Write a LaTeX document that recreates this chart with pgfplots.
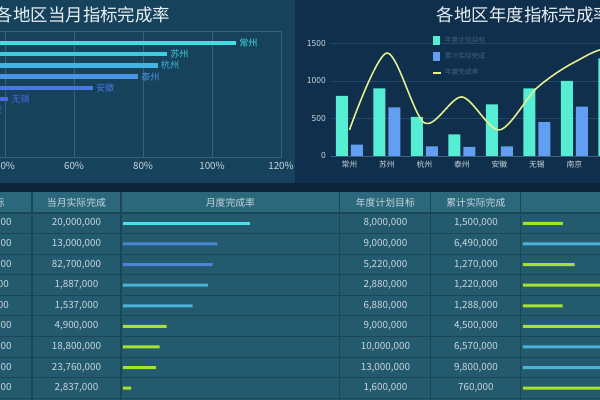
\documentclass[border=0pt]{standalone}
\usepackage{pgfplots}
\pgfplotsset{compat=1.18}
\usepackage{fontspec}
\setmainfont{Noto Sans CJK SC}
\definecolor{bgleft}{HTML}{17425C}
\definecolor{bgright}{HTML}{0F2F4C}
\definecolor{bgband}{HTML}{0C2638}
\definecolor{rowbg}{HTML}{245A6E}
\definecolor{headbg}{HTML}{2B687C}
\definecolor{sepcol}{HTML}{1A4658}
\definecolor{gridL}{HTML}{35617C}
\definecolor{gridR}{HTML}{23486A}
\definecolor{axisR}{HTML}{3A6482}
\definecolor{ticklab}{HTML}{C9D6DE}
\definecolor{titlec}{HTML}{EAF2F6}
\definecolor{tealbar}{HTML}{55EED4}
\definecolor{bluebar}{HTML}{649EF2}
\definecolor{lineyel}{HTML}{E6F08C}
\definecolor{legtext}{HTML}{3E6680}
\definecolor{yg}{HTML}{A6E22E}
\definecolor{lb}{HTML}{4BB4D6}
\definecolor{cy}{HTML}{48E2EA}
\definecolor{mb}{HTML}{4A84D4}
\definecolor{ca}{HTML}{40DDE3}
\definecolor{cb}{HTML}{3DCCE0}
\definecolor{cc}{HTML}{44B5E2}
\definecolor{cd}{HTML}{4A94E6}
\definecolor{ce}{HTML}{4A78E2}
\definecolor{cf}{HTML}{4E66DE}
\definecolor{cg}{HTML}{5A5ED8}
\definecolor{ch}{HTML}{6058D0}
\definecolor{ci}{HTML}{6654C8}
\newcommand\fs[1]{\fontsize{#1}{#1}\selectfont}
\newcommand\trow[5]{%
  \node[text=ticklab,font=\fs{7}] at (-13,{-223.3-20.6*#1}) {#2};
  \node[text=ticklab,font=\fs{7}] at (76.5,{-223.3-20.6*#1}) {#3};
  \node[text=ticklab,font=\fs{7}] at (385.5,{-223.3-20.6*#1}) {#4};
  \node[text=ticklab,font=\fs{7}] at (476,{-223.3-20.6*#1}) {#5};}
\begin{document}
\begin{tikzpicture}
\useasboundingbox (0,0) rectangle (15,-10);
\clip (0,0) rectangle (15,-10);
\begin{scope}[x=0.025cm,y=0.025cm]
\coordinate (LA) at (-133,-157);
\coordinate (RA) at (330.75,-156);
\coordinate (MA) at (123,-398.6);
\coordinate (YA) at (523,-398.6);
% backgrounds
\fill[bgleft] (0,0) rectangle (295,-183);
\fill[bgright] (295,0) rectangle (600,-183);
\fill[bgband] (0,-183) rectangle (600,-192.5);
\fill[rowbg] (-100,-192.5) rectangle (700,-400);
\fill[headbg] (-100,-192.5) rectangle (700,-213);
\foreach \i in {0,...,9} \draw[sepcol,line width=0.8pt] (-100,{-213-20.6*\i}) -- (700,{-213-20.6*\i});
\foreach \x in {32,121,340,431,521} \draw[sepcol,line width=0.8pt] (\x,-192.5) -- (\x,-400);
% titles
\node[anchor=west,text=titlec,font=\fs{12.4}] at (-9,-15) {各地区当月指标完成率};
\node[anchor=west,text=titlec,font=\fs{12.4}] at (432,-15) {各地区年度指标完成率};
% table header
\foreach \x/\t in {-25/当月计划目标,76.5/当月实际完成,230.5/月度完成率,385.5/年度计划目标,476/累计实际完成,640/年度完成率}
  \node[text=ticklab,font=\fs{7}] at (\x,-203) {\t};
\trow{0}{18,600,000}{20,000,000}{8,000,000}{1,500,000}
\trow{1}{15,000,000}{13,000,000}{9,000,000}{6,490,000}
\trow{2}{98,000,000}{82,700,000}{5,220,000}{1,270,000}
\trow{3}{2,400,000}{1,887,000}{2,880,000}{1,220,000}
\trow{4}{2,350,000}{1,537,000}{6,880,000}{1,288,000}
\trow{5}{12,000,000}{4,900,000}{9,000,000}{4,500,000}
\trow{6}{56,000,000}{18,800,000}{10,000,000}{6,570,000}
\trow{7}{78,000,000}{23,760,000}{13,000,000}{9,800,000}
\trow{8}{36,000,000}{2,837,000}{1,600,000}{760,000}
\end{scope}

% ---------- left chart ----------
\begin{axis}[at={(LA)},anchor=south west,scale only axis,
  width=10.35cm,height=3.15cm,xmin=0,xmax=120,ymin=0,ymax=126,
  xtick={0,20,...,120},xticklabel={\pgfmathprintnumber{\tick}\%},
  ytick=\empty,xmajorgrids,major grid style={color=gridL,line width=0.5pt},
  axis line style={gridL,line width=0.5pt},tick style={draw=none},
  x tick label style={font=\fs{7},text=ticklab},
  /pgf/number format/assume math mode=true,clip=false,
  nodes near coords align={horizontal},
  every node near coord/.append style={anchor=west,font=\fs{6.5},inner sep=2pt}]
\addplot[xbar,bar shift=0pt,bar width=0.11cm,fill=ca,draw=none,nodes near coords={常州},every node near coord/.append style={text=ca}] coordinates {(107,114)};
\addplot[xbar,bar shift=0pt,bar width=0.11cm,fill=cb,draw=none,nodes near coords={苏州},every node near coord/.append style={text=cb}] coordinates {(87,102.8)};
\addplot[xbar,bar shift=0pt,bar width=0.11cm,fill=cc,draw=none,nodes near coords={杭州},every node near coord/.append style={text=cc}] coordinates {(84.3,91.6)};
\addplot[xbar,bar shift=0pt,bar width=0.11cm,fill=cd,draw=none,nodes near coords={泰州},every node near coord/.append style={text=cd}] coordinates {(78.6,80.4)};
\addplot[xbar,bar shift=0pt,bar width=0.11cm,fill=ce,draw=none,nodes near coords={安徽},every node near coord/.append style={text=ce}] coordinates {(65.5,69.2)};
\addplot[xbar,bar shift=0pt,bar width=0.11cm,fill=cf,draw=none,nodes near coords={无锡},every node near coord/.append style={text=cf}] coordinates {(41,58)};
\addplot[xbar,bar shift=0pt,bar width=0.11cm,fill=cg,draw=none,nodes near coords={南京},every node near coord/.append style={text=cg}] coordinates {(33,46.8)};
\addplot[xbar,bar shift=0pt,bar width=0.11cm,fill=ch,draw=none,nodes near coords={上海},every node near coord/.append style={text=ch}] coordinates {(27,35.6)};
\addplot[xbar,bar shift=0pt,bar width=0.11cm,fill=ci,draw=none,nodes near coords={合肥},every node near coord/.append style={text=ci}] coordinates {(10,24.4)};
\end{axis}

% ---------- right chart ----------
\begin{axis}[at={(RA)},anchor=south west,scale only axis,
  width=8.4375cm,height=2.8125cm,xmin=-0.5,xmax=8.5,ymin=0,ymax=1500,
  ytick={0,500,1000,1500},xtick={0,...,8},
  xticklabels={常州,苏州,杭州,泰州,安徽,无锡,南京,上海,合肥},
  ymajorgrids,major grid style={color=gridR,line width=0.6pt},
  axis x line*=bottom,axis y line*=left,
  y axis line style={draw=none},x axis line style={color=axisR,-},
  tick style={draw=none},
  x tick label style={font=\fs{5.6},text=ticklab},
  y tick label style={font=\fs{6},text=ticklab},
  /pgf/number format/assume math mode=true,
  /pgf/number format/1000 sep={},clip=false,
  legend style={at={(0.30,1.09)},anchor=north west,draw=none,fill=none,
    font=\fs{4.8},text=legtext,row sep=2pt,inner sep=0pt},
  legend cell align=left]
\addplot[ybar,bar width=0.3cm,bar shift=-0.1875cm,fill=tealbar,draw=none,
  legend image code/.code={\fill[tealbar] (0pt,-3pt) rectangle (5pt,3pt);}]
  coordinates {(0,800)(1,900)(2,522)(3,288)(4,688)(5,900)(6,1000)(7,1300)(8,160)};
\addlegendentry{年度计划目标}
\addplot[ybar,bar width=0.3cm,bar shift=0.1875cm,fill=bluebar,draw=none,
  legend image code/.code={\fill[bluebar] (0pt,-3pt) rectangle (5pt,3pt);}]
  coordinates {(0,150)(1,649)(2,127)(3,122)(4,128.8)(5,450)(6,657)(7,980)(8,76)};
\addlegendentry{累计实际完成}
\addplot[smooth,color=lineyel,line width=1.1pt,mark=none,
  legend image code/.code={\draw[lineyel,line width=1.1pt] (0pt,0pt) -- (6pt,0pt);}]
  coordinates {(0,347)(1,1373)(2,440)(3,787)(4,347)(5,907)(6,1250)(7,1420)(8,870)};
\addlegendentry{年度完成率}
\end{axis}

% ---------- table: monthly rate bars ----------
\begin{axis}[at={(MA)},anchor=south west,scale only axis,
  width=5.31cm,height=4.635cm,xmin=0,xmax=180,ymin=-0.5,ymax=8.5,
  y dir=reverse,hide axis,clip=false]
\addplot[xbar,bar shift=0pt,bar width=0.075cm,fill=cy,draw=none] coordinates {(108,0)};
\addplot[xbar,bar shift=0pt,bar width=0.075cm,fill=mb,draw=none] coordinates {(80,1)(76,2)};
\addplot[xbar,bar shift=0pt,bar width=0.075cm,fill=lb,draw=none] coordinates {(72,3)(59,4)};
\addplot[xbar,bar shift=0pt,bar width=0.075cm,fill=yg,draw=none] coordinates {(37,5)(31,6)(28,7)(7,8)};
\end{axis}

% ---------- table: annual rate bars ----------
\begin{axis}[at={(YA)},anchor=south west,scale only axis,
  width=5.325cm,height=4.635cm,xmin=0,xmax=100,ymin=-0.5,ymax=8.5,
  y dir=reverse,hide axis,clip=false]
\addplot[xbar,bar shift=0pt,bar width=0.075cm,fill=yg,draw=none] coordinates {(18.75,0)(24.3,2)(42.4,3)(18.7,4)(50,5)(47.5,8)};
\addplot[xbar,bar shift=0pt,bar width=0.075cm,fill=lb,draw=none] coordinates {(72.1,1)(65.7,6)(75.4,7)};
\end{axis}
\end{tikzpicture}
\end{document}
